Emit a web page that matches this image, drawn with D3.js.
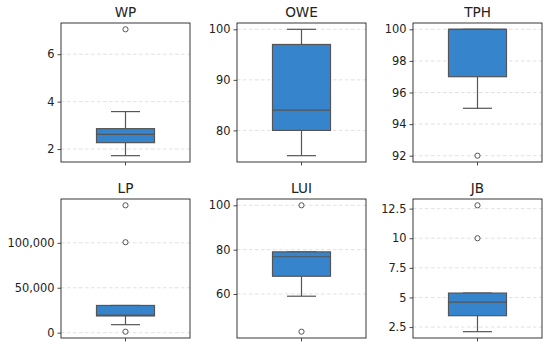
<!DOCTYPE html>
<html>
<head>
<meta charset="utf-8">
<script src="https://cdn.jsdelivr.net/npm/d3@7"></script>
<style>
  body { margin: 0; background: #fff; }
  svg text { font-family: "DejaVu Sans", sans-serif; fill: #222; }
</style>
</head>
<body>
<div id="chart"></div>
<script>
// box statistics, one entry per panel
var names    = ["WP", "OWE", "TPH", "LP", "LUI", "JB"];
var whiskLo  = [1.72, 75, 95, 8900, 59, 2.11];
var q1       = [2.27, 80, 97, 18600, 68, 3.46];
var medians  = [2.62, 84, 100, 19600, 76.8, 4.61];
var q3       = [2.86, 97, 100, 30300, 79, 5.37];
var whiskHi  = [3.58, 100, 100, 30300, 79, 5.37];
var outliers = [[7.05], [], [92], [141800, 100700, 1100], [100, 43], [12.78, 10]];
var ticks    = [[2, 4, 6], [80, 90, 100], [92, 94, 96, 98, 100],
                [0, 50000, 100000], [60, 80, 100], [2.5, 5, 7.5, 10, 12.5]];

var W = 550, H = 347;
var colLeft = [61, 237, 413], rowTop = [23, 199];
var pw = 129, ph = 139;
var boxW = 58;

var svg = d3.select("#chart").append("svg")
    .attr("width", W)
    .attr("height", H);

var fmtComma = d3.format(",");

names.forEach(function(name, i) {
    var px = colLeft[i % 3], py = rowTop[Math.floor(i / 3)];
    var g = svg.append("g").attr("transform", "translate(" + px + "," + py + ")");

    var all = [whiskLo[i], whiskHi[i]].concat(outliers[i]);
    var lo = d3.min(all), hi = d3.max(all), pad = (hi - lo) * 0.05;
    var y = d3.scaleLinear().domain([lo - pad, hi + pad]).range([ph, 0]);
    var cx = pw / 2;

    // dashed grid
    g.selectAll("line.grid").data(ticks[i]).enter().append("line")
        .attr("class", "grid")
        .attr("x1", 0).attr("x2", pw)
        .attr("y1", function(d) { return y(d); })
        .attr("y2", function(d) { return y(d); })
        .attr("stroke", "#d9d9d9")
        .attr("stroke-width", 0.8)
        .attr("stroke-dasharray", "3.5,2.5");

    // y axis
    var fmt = i === 3 ? fmtComma : function(d) { return String(d); };
    var ax = g.append("g")
        .call(d3.axisLeft(y).tickValues(ticks[i]).tickSize(3.5).tickPadding(3).tickFormat(fmt));
    ax.select(".domain").remove();
    ax.selectAll(".tick line").attr("stroke", "#222").attr("stroke-width", 0.8);
    ax.selectAll("text").style("font-size", "11.4px").attr("fill", "#222");

    // x tick at centre
    g.append("line")
        .attr("x1", cx).attr("x2", cx)
        .attr("y1", ph).attr("y2", ph + 3.5)
        .attr("stroke", "#222").attr("stroke-width", 0.8);

    var lc = "#555";
    // whiskers
    g.append("line").attr("x1", cx).attr("x2", cx)
        .attr("y1", y(q3[i])).attr("y2", y(whiskHi[i]))
        .attr("stroke", lc).attr("stroke-width", 1.2);
    g.append("line").attr("x1", cx).attr("x2", cx)
        .attr("y1", y(q1[i])).attr("y2", y(whiskLo[i]))
        .attr("stroke", lc).attr("stroke-width", 1.2);
    [whiskLo[i], whiskHi[i]].forEach(function(v) {
        g.append("line")
            .attr("x1", cx - boxW / 4).attr("x2", cx + boxW / 4)
            .attr("y1", y(v)).attr("y2", y(v))
            .attr("stroke", lc).attr("stroke-width", 1.2);
    });

    // box
    g.append("rect")
        .attr("x", cx - boxW / 2).attr("width", boxW)
        .attr("y", y(q3[i]))
        .attr("height", Math.max(y(q1[i]) - y(q3[i]), 0))
        .attr("fill", "#3685cc")
        .attr("stroke", lc).attr("stroke-width", 1.2);
    g.append("line")
        .attr("x1", cx - boxW / 2).attr("x2", cx + boxW / 2)
        .attr("y1", y(medians[i])).attr("y2", y(medians[i]))
        .attr("stroke", lc).attr("stroke-width", 1.2);

    // outliers
    g.selectAll("circle").data(outliers[i]).enter().append("circle")
        .attr("cx", cx)
        .attr("cy", function(d) { return y(d); })
        .attr("r", 2.6)
        .attr("fill", "none")
        .attr("stroke", lc)
        .attr("stroke-width", 1);

    // frame
    g.append("rect")
        .attr("width", pw).attr("height", ph)
        .attr("fill", "none")
        .attr("stroke", "#222")
        .attr("stroke-width", 0.9);

    // title
    g.append("text")
        .attr("x", cx).attr("y", -6)
        .attr("text-anchor", "middle")
        .style("font-size", "13.6px")
        .text(name);
});
</script>
</body>
</html>
